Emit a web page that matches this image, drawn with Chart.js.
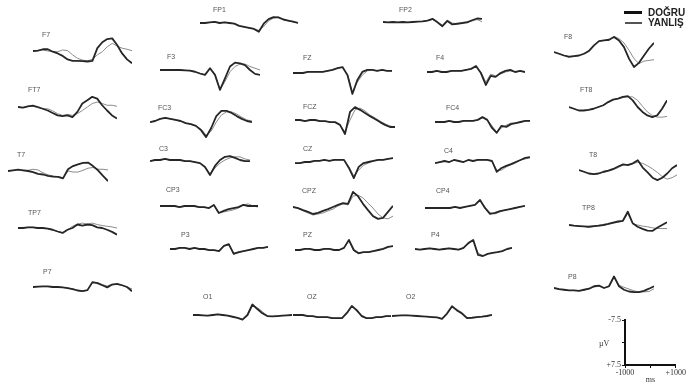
<!DOCTYPE html>
<html>
<head>
<meta charset="utf-8">
<script src="https://cdn.jsdelivr.net/npm/chart.js@4.4.1/dist/chart.umd.min.js"></script>
<style>
  html, body { margin: 0; padding: 0; background: #fff; }
  #board { position: relative; width: 686px; height: 385px; overflow: hidden; }
  .trace { position: absolute; }
  .lbl { position: absolute; font: 7px "Liberation Sans", Arial, sans-serif; color: #555; line-height: 8px; white-space: nowrap; }
  .key { position: absolute; }
  .keytxt { position: absolute; font: bold 10px "Liberation Sans", Arial, sans-serif; color: #222; line-height: 11px; white-space: nowrap; }
  .unit { position: absolute; font: 8px "Liberation Serif", serif; color: #333; line-height: 9px; }
</style>
</head>
<body>
<div id="board"></div>
<script>
// sample times (ms) shared by every electrode
const times = [-1000, -900, -800, -700, -600, -500, -400, -300, -200, -100, 0, 100, 200, 300, 400, 500, 600, 700, 800, 900, 1000];

// amplitudes in µV, D = DOĞRU, Y = YANLIŞ
const FP1_D = [0, 0, -0.2, -0.3, 0, -0.2, 0, 0.2, 0.8, 1.1, 1.4, 1.7, 2.5, 0.2, -1.1, -1.7, -1.6, -1.0, -0.7, -0.4, 0];
const FP1_Y = [0, 0, -0.2, -0.3, 0, -0.2, 0, 0.2, 0.8, 1.1, 1.4, 1.6, 2.1, 1.0, -0.6, -1.4, -1.7, -1.1, -0.6, -0.3, 0];
const FP2_D = [0, 0.1, 0, 0.1, 0, 0.1, 0, -0.1, -0.2, -0.4, -0.9, 0.1, 1.2, -0.3, 0.7, 0.5, 0.3, 0.1, -0.5, -1.0, -0.9];
const FP2_Y = [0, 0.1, 0, 0.1, 0, 0.1, 0, -0.1, -0.2, -0.4, -0.7, -0.1, 0.9, -0.5, 0.3, 0.5, 0.1, -0.1, -0.3, -0.7, -0.1];
const F7_D = [0, -0.1, -0.5, -0.5, 0.2, 0.7, 1.4, 2.4, 2.8, 2.8, 2.9, 3.0, 2.8, -0.8, -2.5, -3.4, -3.6, -1.7, 0.7, 2.4, 3.5];
const F7_Y = [0, -0.1, -0.3, 0, 0.2, 0.2, -0.3, -0.1, 1.1, 2.1, 2.6, 2.8, 2.4, 1.1, 0.2, -1.2, -2.2, -1.4, -0.8, -0.5, -0.1];
const F3_D = [0, 0, 0, 0, 0, 0.1, 0.2, 0.5, 1.0, 1.4, -0.5, 1.4, 5.7, 2.4, -1.0, -2.1, -1.9, -1.4, 0, 1.1, 1.4];
const F3_Y = [0, 0, 0, 0, 0, 0.1, 0.2, 0.5, 1.0, 1.4, -0.4, 1.4, 5.5, 3.3, 0.5, -1.0, -1.7, -1.7, -1.0, -0.5, 0];
const FZ_D = [0, 0, 0, -0.3, -0.3, -0.3, -0.3, -0.6, -0.9, -1.4, -1.7, 0.6, 6.0, 2.0, -0.3, -0.9, -0.9, -0.6, -0.9, -0.6, -0.6];
const FZ_Y = [0, 0, 0, -0.3, -0.3, -0.3, -0.3, -0.6, -0.9, -1.4, -1.6, 0.3, 5.4, 2.6, 0.6, -0.6, -0.9, -0.6, -0.9, -0.6, -0.6];
const F4_D = [0, 0, -0.3, 0, 0, -0.3, -0.3, -0.3, -0.6, -0.9, -1.7, 0.3, 3.7, 1.1, 1.4, 0.3, -0.3, -0.6, 0, -0.3, 0];
const F4_Y = [0, 0, -0.3, 0, 0, -0.3, -0.3, -0.3, -0.6, -0.9, -1.5, 0, 2.9, 0.6, 1.1, 0.6, 0, -0.3, 0, -0.3, 0];
const F8_D = [0, 0.5, 1.0, 1.4, 1.2, 1.0, 0.5, -0.3, -1.9, -3.1, -3.3, -3.5, -4.3, -3.3, -1.4, 1.9, 4.3, 3.1, 1.0, -1.0, -2.6];
const F8_Y = [0, 0.5, 1.0, 1.2, 1.2, 1.0, 0.5, -0.5, -1.9, -3.1, -3.3, -3.3, -4.5, -3.8, -2.6, -0.5, 1.9, 3.3, 2.6, 2.4, 2.2];
const FT7_D = [0, 0.2, -0.2, -0.4, 0, 0.5, 1.0, 1.7, 2.4, 2.6, 2.4, 2.9, 1.4, -1.0, -1.9, -2.9, -2.4, -0.5, 1.0, 2.4, 3.3];
const FT7_Y = [0, 0.2, -0.2, -0.2, 0.2, 0.5, 0.5, 1.1, 1.9, 2.4, 2.1, 2.4, 1.9, 1.0, 0, -1.0, -1.4, -1.0, -0.5, -0.5, -0.2];
const FC3_D = [0.3, 0, -0.6, -0.9, -0.6, -0.3, 0, 0.6, 0.9, 1.4, 2.6, 4.6, 2.0, -1.4, -2.9, -2.9, -2.3, -1.4, -0.6, 0, 0.3];
const FC3_Y = [0.3, 0, -0.6, -0.9, -0.6, -0.3, 0, 0.6, 0.9, 1.4, 2.3, 4.0, 2.9, 0.3, -1.7, -2.6, -2.6, -2.0, -1.1, -0.3, 0];
const FCZ_D = [0, 0, 0.3, 0, 0, 0.3, 0.3, 0.6, 0.6, 1.4, 4.0, -2.3, -3.7, -2.9, -2.0, -1.1, -0.3, 0.6, 1.4, 2.0, 2.0];
const FCZ_Y = [0, 0, 0.3, 0, 0, 0.3, 0.3, 0.6, 0.6, 1.4, 3.4, 0, -2.9, -3.4, -2.6, -1.4, -0.6, 0.3, 1.1, 1.7, 2.0];
const FC4_D = [0, 0, 0, -0.3, 0, 0, -0.3, -0.3, -0.3, -0.6, -1.4, -0.6, 1.7, 3.1, 1.1, 1.4, 0.6, 0.3, 0, -0.3, -0.3];
const FC4_Y = [0, 0, 0, -0.3, 0, 0, -0.3, -0.3, -0.3, -0.6, -1.3, -0.6, 1.1, 2.9, 1.7, 0.9, 0.3, 0.3, 0, -0.3, -0.3];
const FT8_D = [0, 0.5, 1.0, 1.0, 0.8, 0.5, 0, -0.5, -1.4, -2.1, -2.4, -2.9, -3.1, -1.9, 0, 1.4, 2.4, 2.9, 2.4, 0.5, -1.9];
const FT8_Y = [0, 0.5, 1.0, 1.0, 0.8, 0.5, 0, -0.5, -1.4, -2.1, -2.4, -2.7, -2.9, -2.9, -1.9, -0.2, 1.4, 2.4, 2.9, 2.9, 2.7];
const T7_D = [0, -0.2, -0.4, -0.2, 0, 0.3, 0.8, 1.0, 1.4, 1.6, 1.7, 2.1, -0.5, -1.4, -1.9, -2.3, -2.4, -1.4, -0.2, 1.4, 2.9];
const T7_Y = [0, -0.2, -0.4, -0.2, -0.2, -0.5, -0.3, 0.5, 1.1, 1.4, 1.6, 1.9, 0, 0.3, 0.3, -0.2, -0.8, -1.0, -0.5, -0.5, -0.3];
const C3_D = [0.3, 0, 0, -0.3, 0, 0, 0, 0.3, 0.3, 0.6, 0.9, 2.0, 4.3, 1.7, 0, -0.9, -1.1, -0.6, 0, 0.3, 0.3];
const C3_Y = [0.3, 0, 0, -0.3, 0, 0, 0, 0.3, 0.3, 0.6, 0.9, 2.0, 4.0, 2.3, 0.9, 0, -0.6, -0.9, -0.9, -0.3, 0];
const CZ_D = [0.3, 0.3, 0, 0, -0.3, -0.3, -0.6, -0.3, -0.6, -0.6, -0.6, 1.7, 4.6, 1.4, 0.3, 0, -0.3, -0.6, -0.6, -0.9, -1.1];
const CZ_Y = [0.3, 0.3, 0, 0, -0.3, -0.3, -0.6, -0.3, -0.6, -0.6, -0.6, 1.4, 4.0, 2.3, 0.9, 0.3, -0.3, -0.6, -0.6, -0.9, -1.1];
const C4_D = [0.6, 0.3, 0, 0.3, -0.3, 0, 0.3, -0.3, 0, -0.3, -0.3, -0.3, 0, 3.1, 2.0, 1.4, 0.9, 0.3, -0.3, -0.9, -1.1];
const C4_Y = [0.6, 0.3, 0, 0.3, -0.3, 0, 0.3, -0.3, 0, -0.3, -0.3, -0.3, 0, 2.6, 2.6, 1.7, 1.1, 0.6, -0.3, -0.6, -0.9];
const T8_D = [0, 0.5, 1.0, 1.2, 1.0, 0.5, 0.2, -0.3, -1.0, -1.6, -1.4, -1.9, -2.8, -0.7, 0.7, 2.2, 2.9, 2.2, 1.0, -0.5, -1.4];
const T8_Y = [0, 0.5, 1.0, 1.2, 1.0, 0.7, 0.3, -0.1, -0.7, -1.4, -1.6, -1.8, -2.2, -1.9, -1.2, -0.3, 0.7, 1.9, 2.6, 2.2, 1.4];
const CP3_D = [0, 0, 0, 0, 0.3, 0, 0, 0, 0.3, 0.3, 0.6, -0.3, 2.0, 1.4, 0.9, 0.6, 0.3, -0.3, 0, 0, 0];
const CP3_Y = [0, 0, 0, 0, 0.3, 0, 0, 0, 0.3, 0.3, 0.6, -0.3, 2.0, 1.7, 1.4, 1.1, 0.6, -0.3, -0.6, 0, 0.3];
const CPZ_D = [0, 0.3, 0.9, 1.4, 2.0, 1.7, 1.1, 0.6, 0, -0.6, -1.1, -0.9, -4.3, -3.1, -0.9, 0.9, 2.6, 3.4, 3.1, 1.4, -0.3];
const CPZ_Y = [0, 0.3, 1.1, 1.7, 2.3, 2.0, 1.7, 1.1, 0.6, -0.3, -0.9, -0.6, -3.1, -3.4, -2.6, -1.1, 0.3, 2.0, 3.1, 3.4, 2.6];
const CP4_D = [0, 0, 0, 0, 0, 0, -0.3, 0, -0.3, -0.6, -0.9, -2.3, 0, 1.7, 1.4, 0.9, 0.6, 0.3, 0, -0.3, -0.6];
const CP4_Y = [0, 0, 0, 0, 0, 0, -0.3, 0, -0.3, -0.6, -0.9, -2.1, -0.3, 1.4, 1.7, 1.1, 0.6, 0.3, 0, -0.3, -0.6];
const TP7_D = [0, 0, -0.2, -0.2, 0, 0, 0.2, 0.5, 1.0, 1.4, 0.5, 0, -1.0, -0.7, -1.0, -0.8, -0.2, 0, 0.5, 1.1, 1.9];
const TP7_Y = [0, 0, -0.2, -0.2, 0, 0, 0.2, 0.5, 1.0, 1.4, 0.5, -0.5, -1.1, -1.4, -1.1, -1.4, -1.0, -0.7, -0.5, -0.3, 0];
const TP8_D = [0, 0.2, 0.3, 0.4, 0.5, 0.3, 0.2, 0, -0.3, -0.7, -1.0, -1.2, -3.8, -0.5, 0.5, 1.1, 1.6, 1.7, 0.8, 0, -0.8];
const TP8_Y = [0, 0.2, 0.3, 0.4, 0.6, 0.5, 0.3, 0.1, -0.2, -0.5, -0.8, -1.1, -3.3, -0.3, 0, 0.3, 0.5, 0.8, 1.0, 1.0, 1.0];
const P3_D = [0, 0, -0.3, -0.3, 0, -0.3, 0, 0, 0.3, 0.3, 0.6, -0.9, -1.4, 1.4, 0.9, 0.6, 0.3, 0, -0.3, -0.3, -0.6];
const P3_Y = [0, 0, -0.3, -0.3, 0, -0.3, 0, 0, 0.3, 0.3, 0.6, -0.8, -1.3, 1.1, 1.1, 0.6, 0.3, 0, -0.3, -0.3, -0.6];
const PZ_D = [0, 0, -0.3, -0.3, 0, 0, -0.3, -0.3, 0, 0, -0.6, -2.9, 0, 0.9, 0.6, 0.6, 0.3, 0, -0.3, -0.9, -1.1];
const PZ_Y = [0, 0, -0.3, -0.3, 0, 0, -0.3, -0.3, 0, 0, -0.6, -2.6, 0.3, 1.1, 0.6, 0.6, 0.3, 0, -0.3, -0.9, -1.1];
const P4_D = [0, 0.2, 0, -0.2, 0, 0.2, 0, -0.2, 0, 0.2, -0.3, -1.7, -2.6, 1.7, 2.0, 1.4, 1.1, 0.9, 0.6, 0, -0.3];
const P4_Y = [0, 0.2, 0, -0.2, 0, 0.2, 0, -0.2, 0, 0.2, -0.3, -1.5, -2.4, 1.1, 2.0, 1.4, 1.1, 0.9, 0.6, 0, -0.3];
const P7_D = [0, -0.1, -0.2, -0.2, 0, 0, 0.1, 0.3, 0.6, 1.0, 1.2, 0.9, -1.4, -1.1, -0.5, 0.1, -0.7, -0.9, -0.5, 0, 1.2];
const P7_Y = [0, -0.1, -0.1, -0.1, 0, 0.1, 0.1, 0.3, 0.5, 0.9, 1.2, 0.9, -1.1, -1.3, -0.7, -0.3, -0.8, -0.7, -0.5, 0.1, 0.5];
const P8_D = [0, 0.3, 0.5, 0.7, 0.7, 0.8, 0.5, 0.2, -0.5, -0.7, 0, -0.5, -3.3, -0.5, 0.5, 1.0, 1.2, 1.2, 0.8, 0.2, -0.5];
const P8_Y = [0, 0.3, 0.5, 0.7, 0.7, 0.8, 0.6, 0.3, -0.3, -0.5, 0, -0.4, -3.0, -0.8, -0.2, 0.3, 0.8, 1.1, 1.1, 1.0, 0.2];
const O1_D = [0, 0, 0.1, 0.2, 0, -0.2, 0, 0.2, 0.5, 0.8, 1.3, 0, -3.0, -1.7, -0.5, 0.3, 0.4, 0.3, 0.2, 0.1, 0];
const O1_Y = [0, 0, 0.1, 0.2, 0, -0.2, 0, 0.2, 0.5, 0.8, 1.2, 0.2, -2.7, -2.1, -1.0, 0.2, 0.4, 0.3, 0.2, 0.1, 0];
const OZ_D = [0, 0, 0, 0.3, 0.3, 0.6, 0.6, 0.6, 0.9, 0.9, 0.9, -0.6, -2.6, -1.4, 0.3, 0.9, 0.9, 0.6, 0.6, 0.3, 0.3];
const OZ_Y = [0, 0, 0, 0.3, 0.3, 0.6, 0.6, 0.6, 0.9, 0.9, 0.9, -0.4, -2.4, -1.1, 0, 0.9, 0.9, 0.6, 0.6, 0.3, 0.3];
const O2_D = [0, -0.1, -0.2, -0.2, -0.1, 0, 0.1, 0.2, 0.3, 0.4, 0.8, -0.7, -2.8, -1.6, -0.7, 0.6, 0.5, 0.3, 0.2, 0, -0.3];
const O2_Y = [0, -0.1, -0.2, -0.2, -0.1, 0, 0.1, 0.2, 0.3, 0.4, 0.8, -0.5, -2.6, -1.9, -1.0, 0.4, 0.5, 0.3, 0.2, 0, -0.3];

// scale bar ticks
const scaleTicksY = [-7.5, 0, 7.5];
const scaleTicksX = [-1000, 0, 1000];
const legendNames = ['DOĞRU', 'YANLIŞ'];

const electrodes = ['FP1', 'FP2', 'F7', 'F3', 'FZ', 'F4', 'F8', 'FT7', 'FC3', 'FCZ', 'FC4', 'FT8',
  'T7', 'C3', 'CZ', 'C4', 'T8', 'CP3', 'CPZ', 'CP4', 'TP7', 'TP8', 'P3', 'PZ', 'P4', 'P7', 'P8', 'O1', 'OZ', 'O2'];

const series = {
  FP1: [FP1_D, FP1_Y], FP2: [FP2_D, FP2_Y], F7: [F7_D, F7_Y], F3: [F3_D, F3_Y], FZ: [FZ_D, FZ_Y],
  F4: [F4_D, F4_Y], F8: [F8_D, F8_Y], FT7: [FT7_D, FT7_Y], FC3: [FC3_D, FC3_Y], FCZ: [FCZ_D, FCZ_Y],
  FC4: [FC4_D, FC4_Y], FT8: [FT8_D, FT8_Y], T7: [T7_D, T7_Y], C3: [C3_D, C3_Y], CZ: [CZ_D, CZ_Y],
  C4: [C4_D, C4_Y], T8: [T8_D, T8_Y], CP3: [CP3_D, CP3_Y], CPZ: [CPZ_D, CPZ_Y], CP4: [CP4_D, CP4_Y],
  TP7: [TP7_D, TP7_Y], TP8: [TP8_D, TP8_Y], P3: [P3_D, P3_Y], PZ: [PZ_D, PZ_Y], P4: [P4_D, P4_Y],
  P7: [P7_D, P7_Y], P8: [P8_D, P8_Y], O1: [O1_D, O1_Y], OZ: [OZ_D, OZ_Y], O2: [O2_D, O2_Y]
};

// placement on the page: trace left, trace right, baseline y, label left, label top
const layout = {
  FP1: [200, 298, 23, 213, 6],   FP2: [383, 482, 22, 399, 6],
  F7: [33, 132, 51, 42, 31],     F3: [160, 260, 70, 167, 53],   FZ: [293, 392, 73, 303, 54],
  F4: [427, 525, 72, 436, 54],   F8: [554, 654, 52, 564, 33],
  FT7: [18, 117, 107, 28, 86],   FC3: [150, 252, 121, 158, 104], FCZ: [295, 395, 120, 303, 103],
  FC4: [435, 530, 122, 446, 104], FT8: [569, 667, 107, 580, 86],
  T7: [8, 108, 171, 17, 151],    C3: [150, 250, 160, 159, 145], CZ: [295, 393, 162, 303, 145],
  C4: [435, 530, 161, 444, 147], T8: [579, 677, 170, 589, 151],
  CP3: [160, 258, 206, 166, 186], CPZ: [293, 393, 207, 302, 187], CP4: [425, 525, 208, 436, 187],
  TP7: [18, 117, 228, 28, 209],  TP8: [569, 667, 225, 582, 204],
  P3: [170, 268, 249, 181, 231], PZ: [295, 393, 250, 303, 231], P4: [415, 512, 249, 431, 231],
  P7: [33, 132, 287, 43, 268],   P8: [554, 654, 288, 568, 273],
  O1: [193, 292, 315, 203, 293], OZ: [293, 391, 315, 307, 293], O2: [392, 492, 316, 406, 293]
};

const board = document.getElementById('board');
const TRACE_H = 70;

function addText(cls, text, left, top) {
    const d = document.createElement('div');
    d.className = cls;
    d.textContent = text;
    d.style.left = left + 'px';
    d.style.top = top + 'px';
    board.appendChild(d);
    return d;
}

function makeTrace(name) {
    const [left, right, base, lx, ly] = layout[name];
    const [dogru, yanlis] = series[name];

    const canvas = document.createElement('canvas');
    canvas.className = 'trace';
    canvas.width = right - left;
    canvas.height = TRACE_H;
    canvas.style.left = left + 'px';
    canvas.style.top = (base - TRACE_H / 2) + 'px';
    board.appendChild(canvas);

    addText('lbl', name, lx, ly);

    new Chart(canvas.getContext('2d'), {
        type: 'line',
        data: {
            labels: times,
            datasets: [{
                label: legendNames[0],
                data: dogru,
                borderColor: '#262626',
                borderWidth: 1.8
            }, {
                label: legendNames[1],
                data: yanlis,
                borderColor: '#8c8c8c',
                borderWidth: 1
            }]
        },
        options: {
            responsive: false,
            animation: false,
            events: [],
            layout: { padding: 0 },
            elements: {
                point: { radius: 0 },
                line: { tension: 0, borderJoinStyle: 'round', fill: false }
            },
            plugins: { legend: { display: false }, tooltip: { enabled: false } },
            scales: {
                x: { display: false },
                y: { display: false, min: -10, max: 10, reverse: true }
            }
        }
    });
}

electrodes.forEach(makeTrace);

// legend, top right
const key1 = document.createElement('div');
key1.className = 'key';
Object.assign(key1.style, { left: '624px', top: '11px', width: '18px', height: '3px', background: '#111' });
board.appendChild(key1);
const key2 = document.createElement('div');
key2.className = 'key';
Object.assign(key2.style, { left: '625px', top: '22px', width: '17px', height: '1.5px', background: '#555' });
board.appendChild(key2);
addText('keytxt', legendNames[0], 648, 7);
addText('keytxt', legendNames[1], 648, 17);

// calibration axes, bottom right
const sc = document.createElement('canvas');
sc.className = 'trace';
sc.width = 101;
sc.height = 75;
sc.style.left = '585px';
sc.style.top = '310px';
board.appendChild(sc);
addText('unit', 'µV', 599, 339);

const scaleFont = { family: '"Liberation Serif", serif', size: 8 };
new Chart(sc.getContext('2d'), {
    type: 'line',
    data: { datasets: [] },
    options: {
        responsive: false,
        animation: false,
        events: [],
        layout: { padding: { top: 10, right: 9, left: 0, bottom: 0 } },
        plugins: { legend: { display: false }, tooltip: { enabled: false } },
        scales: {
            x: {
                type: 'linear',
                min: scaleTicksX[0],
                max: scaleTicksX[2],
                afterBuildTicks: s => { s.ticks = scaleTicksX.map(v => ({ value: v })); },
                afterFit: s => { s.height = 20; },
                grid: { drawOnChartArea: false, tickLength: 3, color: '#111', lineWidth: 1 },
                border: { color: '#111', width: 2 },
                ticks: {
                    color: '#333', font: scaleFont, padding: 0, maxRotation: 0, autoSkip: false,
                    callback: v => v === 0 ? '' : (v > 0 ? '+' + v : String(v))
                },
                title: { display: true, text: 'ms', color: '#333', font: scaleFont, padding: { top: 0, bottom: 0 } }
            },
            y: {
                min: scaleTicksY[0],
                max: scaleTicksY[2],
                reverse: true,
                afterBuildTicks: s => { s.ticks = scaleTicksY.map(v => ({ value: v })); },
                afterFit: s => { s.width = 40; },
                grid: { drawOnChartArea: false, tickLength: 3, color: '#111', lineWidth: 1 },
                border: { color: '#111', width: 2 },
                ticks: {
                    color: '#333', font: scaleFont, padding: 1, autoSkip: false,
                    callback: v => v === 0 ? '' : (v > 0 ? '+' + v : String(v))
                }
            }
        }
    }
});
</script>
</body>
</html>
